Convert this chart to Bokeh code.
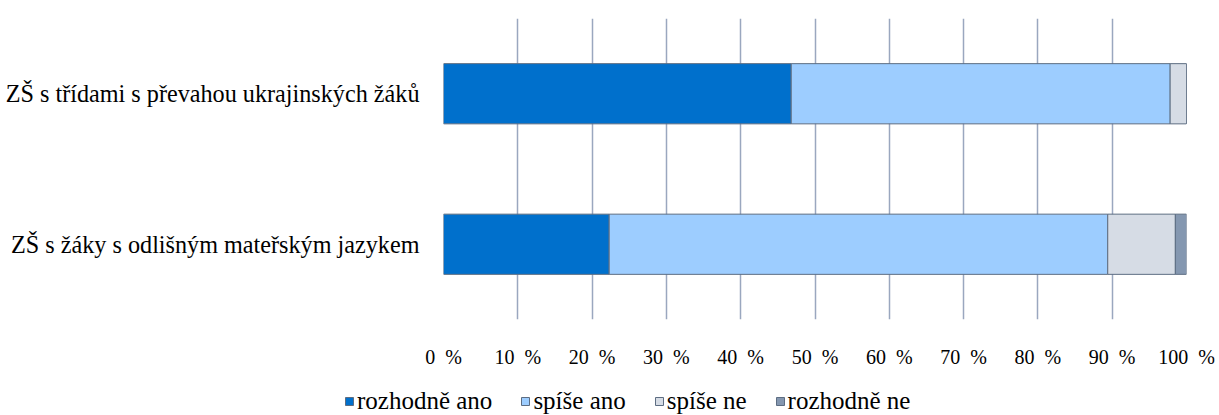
from bokeh.plotting import figure
from bokeh.models import Range1d, FactorRange, Legend, LegendItem, FixedTicker, ColumnDataSource
from bokeh.embed import file_html
from bokeh.resources import INLINE

categories = ["ZŠ s žáky s odlišným mateřským jazykem",
              "ZŠ s třídami s převahou ukrajinských žáků"]
series = ["rozhodně ano", "spíše ano", "spíše ne", "rozhodně ne"]
rozhodne_ano = [22.3, 46.8]
spise_ano = [67.1, 51.0]
spise_ne = [9.1, 2.2]
rozhodne_ne = [1.5, 0.0]
colors = ["#0070cc", "#9dcdff", "#d6dce5", "#8497b0"]
tick_values = [0, 10, 20, 30, 40, 50, 60, 70, 80, 90, 100]
tick_labels = {v: f"{v}\u00a0\u00a0%" for v in tick_values}

FONT = "Liberation Serif"
OUTLINE = "#5d6d82"

p = figure(width=1219, height=370, output_backend="svg", toolbar_location=None,
           x_range=Range1d(0, 100), y_range=FactorRange(*categories),
           min_border_left=443, min_border_right=33, min_border_top=18,
           min_border_bottom=45, outline_line_color=None)

source = ColumnDataSource(dict(cat=categories, a=rozhodne_ano, b=spise_ano, c=spise_ne, d=rozhodne_ne))
p.hbar_stack(["a", "b", "c", "d"], y="cat", height=0.4, color=colors,
             line_color=OUTLINE, line_width=1, source=source)

p.xaxis.ticker = FixedTicker(ticks=tick_values)
p.xaxis.major_label_overrides = tick_labels
p.xaxis.axis_line_color = None
p.xaxis.major_tick_line_color = None
p.xaxis.minor_tick_line_color = None
p.xaxis.major_label_standoff = 20
p.xaxis.major_label_text_font = FONT
p.xaxis.major_label_text_font_size = "20px"
p.xaxis.major_label_text_color = "#000000"

p.yaxis.axis_line_color = None
p.yaxis.major_tick_line_color = None
p.yaxis.minor_tick_line_color = None
p.yaxis.major_label_standoff = 18
p.yaxis.major_label_text_font = FONT
p.yaxis.major_label_text_font_size = "24.2px"
p.yaxis.major_label_text_color = "#000000"

p.xgrid.grid_line_color = "#9aa7bf"
p.xgrid.grid_line_width = 1.5
p.ygrid.grid_line_color = None

# legend strip below the chart; its swatch renderers fall outside its visible x range
lg = figure(width=1219, height=45, output_backend="svg", toolbar_location=None,
            x_range=Range1d(-300, -200), y_range=FactorRange(*categories),
            x_axis_type=None, y_axis_type=None,
            min_border_left=0, min_border_right=0, min_border_top=0, min_border_bottom=0,
            outline_line_color=None)
lg.grid.visible = False
swatches = lg.hbar_stack(["a", "b", "c", "d"], y="cat", height=0.4, color=colors,
                         line_color=OUTLINE, line_width=1, source=source)
legend = Legend(items=[LegendItem(label=s, renderers=[r]) for s, r in zip(series, swatches)],
                orientation="horizontal", location=(344, 0),
                glyph_width=10, glyph_height=10, label_standoff=3, spacing=28,
                padding=0, margin=0, border_line_color=None, background_fill_alpha=0,
                label_text_font=FONT, label_text_font_size="25px", label_text_color="#000000",
                label_height=18)
lg.add_layout(legend, "center")

open("out.html", "w").write(file_html([p, lg], INLINE))
